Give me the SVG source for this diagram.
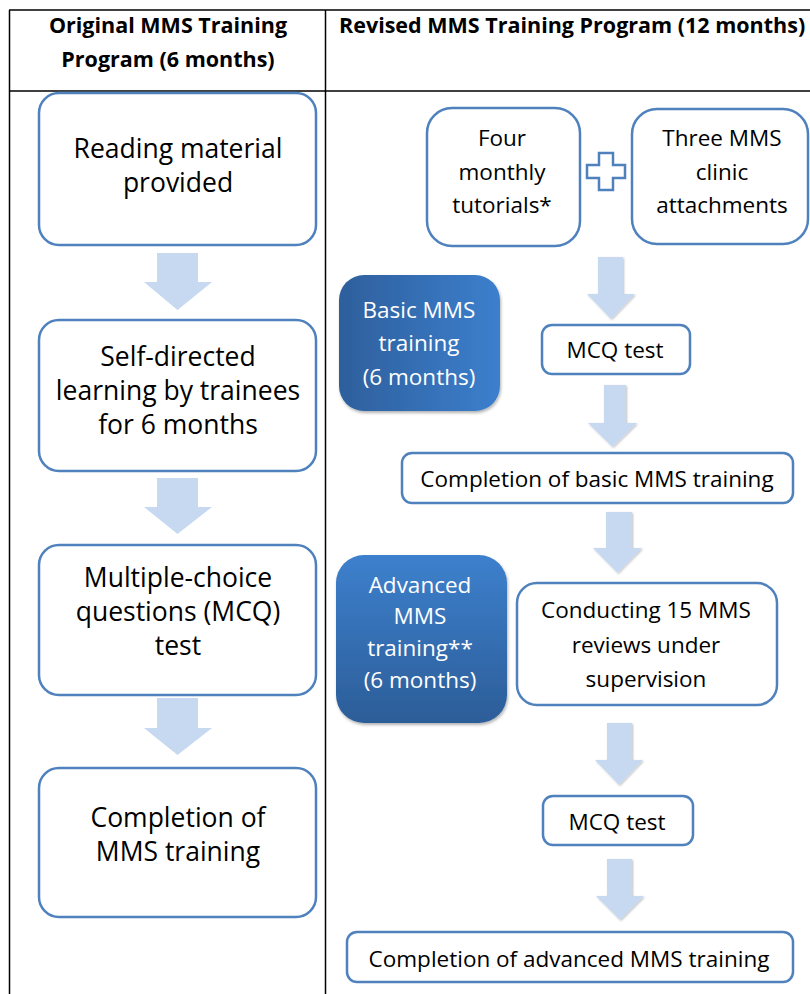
<svg xmlns="http://www.w3.org/2000/svg" width="810" height="994" viewBox="0 0 810 994">
<style>
.tbl{stroke:#000;stroke-width:1.5;fill:none}
.box{fill:#fff;stroke:#4f81bd;stroke-width:2.5}
.arr{fill:#c6d9f1}
.hd{font-family:"Open Sans",Lato,sans-serif;font-weight:bold;font-size:21.5px;fill:#000}
.lt{font-family:"Open Sans",Lato,sans-serif;font-size:26.5px;fill:#000;text-anchor:middle}
.rt{font-family:"Open Sans",Lato,sans-serif;font-size:22.5px;fill:#000;text-anchor:middle}
.wt{font-family:"Open Sans",Lato,sans-serif;font-size:22.5px;fill:#fff;text-anchor:middle}
</style>
<defs>
<linearGradient id="gBasic" x1="0" y1="0" x2="1" y2="0">
<stop offset="0" stop-color="#2e5f9c"/><stop offset="1" stop-color="#3c7fcd"/>
</linearGradient>
<linearGradient id="gAdv" x1="0" y1="0" x2="0" y2="1">
<stop offset="0" stop-color="#3d80cd"/><stop offset="1" stop-color="#2c5d98"/>
</linearGradient>
<filter id="sh" x="-10%" y="-10%" width="125%" height="125%">
<feDropShadow dx="1" dy="2" stdDeviation="1.5" flood-color="#000" flood-opacity="0.3"/>
</filter>
<filter id="ash" x="-20%" y="-10%" width="140%" height="130%">
<feDropShadow dx="1" dy="1" stdDeviation="1" flood-color="#000" flood-opacity="0.25"/>
</filter>
</defs>
<rect width="810" height="994" fill="#fff"/>
<g id="table">
<line class="tbl" x1="9" y1="10" x2="810" y2="10"/>
<line class="tbl" x1="9" y1="91" x2="810" y2="91"/>
<line class="tbl" x1="9.5" y1="10" x2="9.5" y2="994"/>
<line class="tbl" x1="325.5" y1="10" x2="325.5" y2="994"/>
<text class="hd" x="168" y="33" text-anchor="middle">Original MMS Training</text>
<text class="hd" x="168" y="67" text-anchor="middle">Program (6 months)</text>
<text class="hd" x="339" y="33">Revised MMS Training Program (12 months)</text>
</g>
<g id="connectors">
<polygon class="arr" points="157,253 198,253 198,282 212,282 177.5,310 144,282 157,282"/>
<polygon class="arr" points="157,478 198,478 198,507 212,507 177.5,534 144,507 157,507"/>
<polygon class="arr" points="157,698 198,698 198,728 212,728 177.5,755 144,728 157,728"/>
<g filter="url(#ash)">
<polygon class="arr" points="598,257 623,257 623,294 635,294 611,319 587,294 598,294"/>
<polygon class="arr" points="604,385 626,385 626,423 637,423 612.5,447 588,423 604,423"/>
<polygon class="arr" points="606,512 632,512 632,548 642,548 617.5,573 593,548 606,548"/>
<polygon class="arr" points="607,723 632,723 632,760 643,760 619,785 595,760 607,760"/>
<polygon class="arr" points="607,859 632,859 632,896 644,896 620,920 596,896 607,896"/>
</g>
</g>
<g id="n_reading">
<rect class="box" x="39" y="93" width="277" height="152" rx="20"/>
<text class="lt" x="178" y="158">Reading material</text>
<text class="lt" x="178" y="192">provided</text>
</g>
<g id="n_self">
<rect class="box" x="39" y="320" width="277" height="151" rx="20"/>
<text class="lt" x="178" y="366">Self-directed</text>
<text class="lt" x="178" y="400">learning by trainees</text>
<text class="lt" x="178" y="434">for 6 months</text>
</g>
<g id="n_mcq_left">
<rect class="box" x="39" y="545" width="277" height="150" rx="20"/>
<text class="lt" x="178" y="587">Multiple-choice</text>
<text class="lt" x="178" y="621">questions (MCQ)</text>
<text class="lt" x="178" y="655">test</text>
</g>
<g id="n_completion_left">
<rect class="box" x="39" y="768" width="277" height="149" rx="20"/>
<text class="lt" x="178" y="827">Completion of</text>
<text class="lt" x="178" y="861">MMS training</text>
</g>
<g id="n_four">
<rect class="box" x="427" y="108" width="153" height="138" rx="25"/>
<text class="rt" x="502" y="146">Four</text>
<text class="rt" x="502" y="180">monthly</text>
<text class="rt" x="502" y="213">tutorials*</text>
</g>
<g id="n_plus">
<path class="box" stroke-width="2.5" d="M599,153 H613 V165 H625 V178 H613 V190 H599 V178 H587 V165 H599 Z"/>
</g>
<g id="n_three">
<rect class="box" x="632" y="109" width="176" height="135" rx="25"/>
<text class="rt" x="722" y="146">Three MMS</text>
<text class="rt" x="722" y="180">clinic</text>
<text class="rt" x="722" y="213">attachments</text>
</g>
<g id="n_basic">
<rect x="339" y="275" width="161" height="136" rx="25" fill="url(#gBasic)" filter="url(#sh)"/>
<text class="wt" x="419" y="318">Basic MMS</text>
<text class="wt" x="419" y="351">training</text>
<text class="wt" x="419" y="385">(6 months)</text>
</g>
<g id="n_mcq1">
<rect class="box" x="542" y="325" width="148" height="49" rx="10"/>
<text class="rt" x="615" y="358">MCQ test</text>
</g>
<g id="n_comp_basic">
<rect class="box" x="402" y="453" width="391" height="50" rx="10"/>
<text class="rt" x="597" y="487">Completion of basic MMS training</text>
</g>
<g id="n_advanced">
<rect x="336" y="555" width="171" height="168" rx="28" fill="url(#gAdv)" filter="url(#sh)"/>
<text class="wt" x="420" y="593">Advanced</text>
<text class="wt" x="420" y="624">MMS</text>
<text class="wt" x="420" y="656">training**</text>
<text class="wt" x="420" y="688">(6 months)</text>
</g>
<g id="n_conducting">
<rect class="box" x="517" y="583" width="260" height="122" rx="20"/>
<text class="rt" x="646" y="618">Conducting 15 MMS</text>
<text class="rt" x="646" y="653">reviews under</text>
<text class="rt" x="646" y="687">supervision</text>
</g>
<g id="n_mcq2">
<rect class="box" x="543" y="796" width="150" height="49" rx="10"/>
<text class="rt" x="617" y="830">MCQ test</text>
</g>
<g id="n_comp_adv">
<rect class="box" x="347" y="932" width="446" height="50" rx="10"/>
<text class="rt" x="569" y="967">Completion of advanced MMS training</text>
</g>
</svg>
